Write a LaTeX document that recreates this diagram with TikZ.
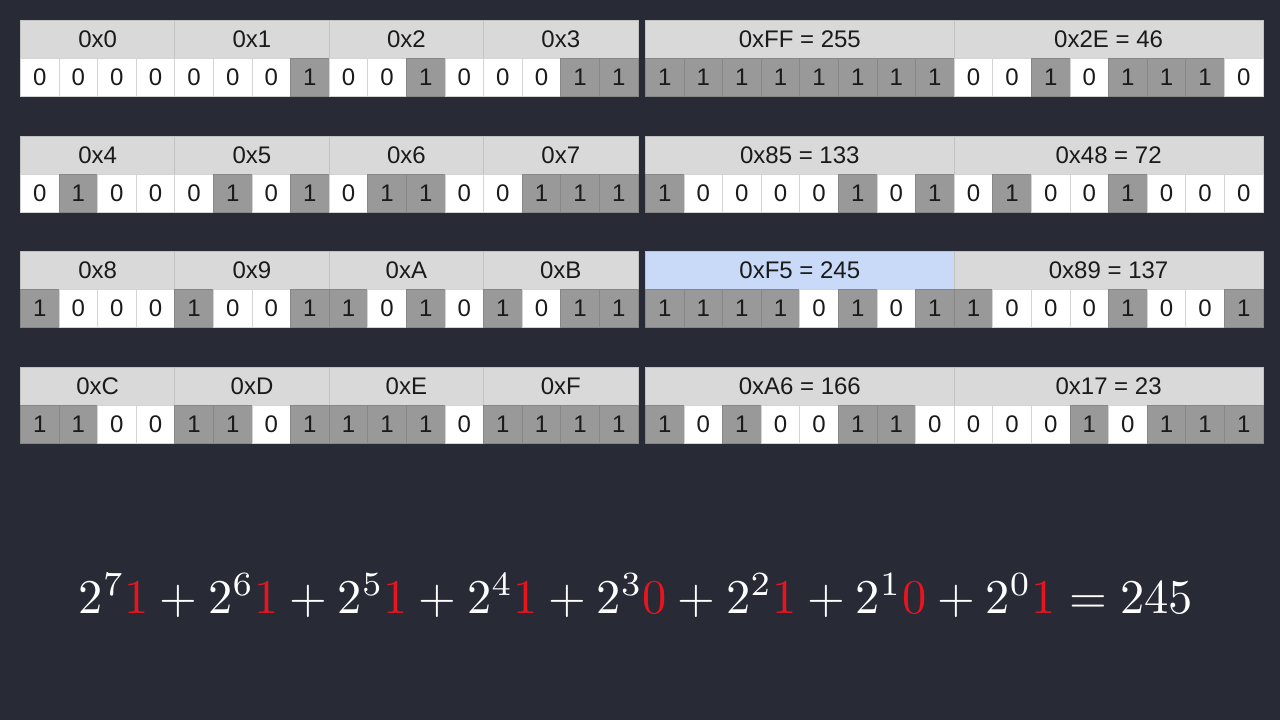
\documentclass[tikz,border=0pt]{standalone}
\usepackage{graphicx}
\usepackage{fontspec}
\newfontfamily\cellfont{Liberation Sans}
\definecolor{bg}{HTML}{282A36}
\definecolor{hdrfill}{HTML}{D9D9D9}
\definecolor{hdrline}{HTML}{C2C2C2}
\definecolor{hlfill}{HTML}{C9DAF8}
\definecolor{cellgrey}{HTML}{999999}
\definecolor{greyline}{HTML}{878787}
\definecolor{whiteline}{HTML}{D4D4D4}
\definecolor{eqred}{HTML}{E8141E}
\definecolor{txt}{HTML}{1A1A1A}
\tikzset{
  hdr/.style={draw=hdrline, line width=0.8pt, minimum height=37.5pt, inner sep=0pt,
    anchor=north west, font=\cellfont\fontsize{24}{27}\selectfont, text=txt},
  bitcell/.style={line width=0.8pt, minimum width=38.6pt, minimum height=38.5pt, inner sep=0pt,
    anchor=north west, font=\cellfont\fontsize{24}{27}\selectfont, text=txt},
}
\begin{document}
\begin{tikzpicture}[x=1pt,y=-1pt]
\fill[bg] (0,0) rectangle (1280,720);
\useasboundingbox (0,0) rectangle (1280,720);
\foreach \r/\t/\la/\lb/\lc/\ld/\ra/\rb/\hl/\bl/\br in {
 1/20/0x0/0x1/0x2/0x3/{0xFF = 255}/{0x2E = 46}/0/{0,0,0,0,0,0,0,1,0,0,1,0,0,0,1,1}/{1,1,1,1,1,1,1,1,0,0,1,0,1,1,1,0},
 2/136/0x4/0x5/0x6/0x7/{0x85 = 133}/{0x48 = 72}/0/{0,1,0,0,0,1,0,1,0,1,1,0,0,1,1,1}/{1,0,0,0,0,1,0,1,0,1,0,0,1,0,0,0},
 3/251/0x8/0x9/0xA/0xB/{0xF5 = 245}/{0x89 = 137}/1/{1,0,0,0,1,0,0,1,1,0,1,0,1,0,1,1}/{1,1,1,1,0,1,0,1,1,0,0,0,1,0,0,1},
 4/367/0xC/0xD/0xE/0xF/{0xA6 = 166}/{0x17 = 23}/0/{1,1,0,0,1,1,0,1,1,1,1,0,1,1,1,1}/{1,0,1,0,0,1,1,0,0,0,0,1,0,1,1,1}} {
  % left headers
  \foreach \h [count=\j from 0] in {\la,\lb,\lc,\ld} {
    \node[hdr, fill=hdrfill, minimum width=154.4pt] (hl\r-\j) at (20+\j*154.4,\t) {\h};
  }
  % right headers
  \ifnum\hl=1 \def\fa{hlfill}\else\def\fa{hdrfill}\fi
  \node[hdr, fill=\fa, minimum width=308.8pt] (hr\r-0) at (645,\t) {\ra};
  \node[hdr, fill=hdrfill, minimum width=308.8pt] (hr\r-1) at (953.8,\t) {\rb};
  % bits
  \foreach \b [count=\i from 0] in \bl {
    \ifnum\b=1 \def\fc{cellgrey}\def\dc{greyline}\else\def\fc{white}\def\dc{whiteline}\fi
    \node[bitcell, fill=\fc, draw=\dc] (bl\r-\i) at (20+\i*38.6,\t+37.5) {\b};
  }
  \foreach \b [count=\i from 0] in \br {
    \ifnum\b=1 \def\fc{cellgrey}\def\dc{greyline}\else\def\fc{white}\def\dc{whiteline}\fi
    \node[bitcell, fill=\fc, draw=\dc] (br\r-\i) at (645+\i*38.6,\t+37.5) {\b};
  }
}
\node[text=white, anchor=base, inner sep=0pt] (eq) at (636,613)
 {\scalebox{4.85}{$2^7{\color{eqred}1}+2^6{\color{eqred}1}+2^5{\color{eqred}1}+2^4{\color{eqred}1}+2^3{\color{eqred}0}+2^2{\color{eqred}1}+2^1{\color{eqred}0}+2^0{\color{eqred}1}=245$}};
\end{tikzpicture}
\end{document}
